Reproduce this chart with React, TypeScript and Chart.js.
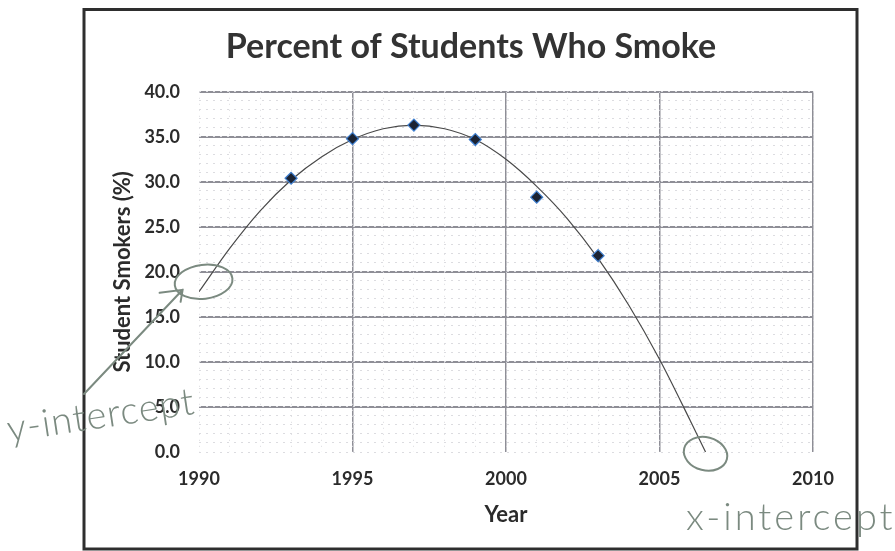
import { useEffect, useRef } from "react";
import { Chart, registerables } from "chart.js";

Chart.register(...registerables);

// ---- data ----
const surveyYears = [1993, 1995, 1997, 1999, 2001, 2003];
const smokerPercent = [30.4, 34.8, 36.3, 34.7, 28.3, 21.8];

// polynomial trendline at each year
const trendYears = [1990, 1991, 1992, 1993, 1994, 1995, 1996, 1997, 1998, 1999, 2000, 2001, 2002, 2003, 2004, 2005, 2006, 2006.5];
const trendPercent = [17.8, 22.6, 26.8, 30.2, 32.8, 34.7, 35.9, 36.3, 35.9, 34.7, 32.5, 29.5, 25.9, 21.5, 16.3, 10.3, 3.5, 0.0];

const xTickValues = [1990, 1995, 2000, 2005, 2010];
const yTickValues = [0, 5, 10, 15, 20, 25, 30, 35, 40];

const chartTitle = "Percent of Students Who Smoke";
const xTitle = "Year";
const yTitle = "Student Smokers (%)";
const yNote = "y-intercept";
const xNote = "x-intercept";
const yInterceptAt = { x: 1990.15, y: 18.9 };
const xInterceptAt = { x: 2006.5, y: -0.2 };

const FONT = "Lato, 'Open Sans', sans-serif";
const INK = "#7b8a80";

const framePlugin = {
  id: "frameAndNotes",
  beforeDraw(chart: any) {
    const ctx = chart.ctx;
    ctx.save();
    ctx.fillStyle = "#ffffff";
    ctx.fillRect(0, 0, chart.width, chart.height);
    ctx.strokeStyle = "#2e2e2e";
    ctx.lineWidth = 3;
    ctx.strokeRect(84, 9.5, 773, 539.5);
    ctx.restore();
  },
  afterDraw(chart: any) {
    const ctx = chart.ctx;
    const xs = chart.scales.x;
    const ys = chart.scales.y;
    ctx.save();
    ctx.strokeStyle = INK;
    ctx.fillStyle = INK;
    ctx.lineWidth = 2;
    ctx.lineCap = "round";

    // circle around the y-intercept
    const yx = xs.getPixelForValue(yInterceptAt.x);
    const yy = ys.getPixelForValue(yInterceptAt.y);
    ctx.beginPath();
    ctx.ellipse(yx, yy, 29, 17, -0.12, 0, Math.PI * 2);
    ctx.stroke();

    // pointer line with small arrow head
    ctx.beginPath();
    ctx.moveTo(84, 394);
    ctx.lineTo(yx - 21, yy + 8);
    ctx.moveTo(yx - 44, yy + 11);
    ctx.lineTo(yx - 21, yy + 8);
    ctx.lineTo(yx - 23, yy + 20);
    ctx.stroke();

    // circle around the x-intercept
    const xx = xs.getPixelForValue(xInterceptAt.x);
    const xy = ys.getPixelForValue(xInterceptAt.y);
    ctx.beginPath();
    ctx.ellipse(xx, xy, 22, 16.5, 0.25, 0, Math.PI * 2);
    ctx.stroke();

    // handwritten notes
    ctx.textBaseline = "alphabetic";
    ctx.font = `300 38px ${FONT}`;
    (ctx as any).letterSpacing = "1px";
    ctx.save();
    ctx.translate(9, 442);
    ctx.rotate(-0.15);
    ctx.fillText(yNote, 0, 0);
    ctx.restore();

    ctx.font = `300 38px ${FONT}`;
    (ctx as any).letterSpacing = "3px";
    ctx.fillText(xNote, 686, 530);
    (ctx as any).letterSpacing = "0px";
    ctx.restore();
  },
};

export default function App() {
  const canvasRef = useRef<HTMLCanvasElement | null>(null);

  useEffect(() => {
    document.body.style.margin = "0";
    const canvas = canvasRef.current;
    if (!canvas) return;

    const chart = new Chart(canvas, {
      type: "scatter",
      data: {
        datasets: [
          {
            label: "Student Smokers",
            data: surveyYears.map((x, i) => ({ x, y: smokerPercent[i] })),
            pointStyle: "rectRot",
            pointRadius: 6,
            backgroundColor: "#1b2333",
            borderColor: "#3f7fcf",
            borderWidth: 1.2,
            showLine: false,
            order: 0,
          } as any,
          {
            type: "line",
            label: "Trend",
            data: trendYears.map((x, i) => ({ x, y: trendPercent[i] })),
            borderColor: "#4a4a4a",
            borderWidth: 1.2,
            pointRadius: 0,
            cubicInterpolationMode: "monotone",
            fill: false,
            order: 1,
          } as any,
        ],
      },
      options: {
        responsive: false,
        animation: false,
        events: [],
        layout: { padding: { left: 47, right: 0, top: 0, bottom: 10 } },
        plugins: {
          legend: { display: false },
          tooltip: { enabled: false },
          title: {
            display: true,
            text: chartTitle,
            color: "#333333",
            font: { family: FONT, size: 34, weight: "bold" },
            padding: { top: 27, bottom: 24 },
          },
        },
        scales: {
          x: {
            type: "linear",
            position: "bottom",
            min: 1990,
            max: 2010,
            afterBuildTicks: (s: any) => {
              s.ticks = xTickValues.map((v) => ({ value: v }));
            },
            afterFit: (s: any) => {
              s.height = 89;
            },
            ticks: {
              callback: (v: any) => String(v),
              color: "#2b2b2b",
              font: { family: FONT, size: 18, weight: "bold" },
              padding: 16,
              maxRotation: 0,
            },
            grid: {
              color: (c: any) => (c.tick && c.tick.value === 1990 ? "rgba(0,0,0,0)" : "#8e8e96"),
              lineWidth: 1.5,
              drawTicks: false,
            },
            border: { display: false },
            title: {
              display: true,
              text: xTitle,
              color: "#2b2b2b",
              font: { family: FONT, size: 22, weight: "bold" },
              padding: { top: 0, bottom: 13 },
            },
          },
          y: {
            type: "linear",
            position: "left",
            min: 0,
            max: 40,
            afterBuildTicks: (s: any) => {
              s.ticks = yTickValues.map((v) => ({ value: v }));
            },
            afterFit: (s: any) => {
              s.width = 152;
            },
            ticks: {
              callback: (v: any) => Number(v).toFixed(1),
              color: "#2b2b2b",
              font: { family: FONT, size: 18, weight: "bold" },
              padding: 19,
            },
            grid: {
              color: (c: any) => (c.tick && c.tick.value === 0 ? "rgba(0,0,0,0)" : "#8e8e96"),
              lineWidth: 2,
              drawTicks: false,
            },
            border: { display: false },
            title: {
              display: true,
              text: yTitle,
              color: "#2b2b2b",
              font: { family: FONT, size: 22, weight: "bold" },
              padding: { top: 63, bottom: 0 },
            },
          },
          xMinor: {
            type: "linear",
            position: "bottom",
            min: 1990,
            max: 2010,
            ticks: { display: false, stepSize: 1 },
            afterFit: (s: any) => {
              s.height = 0;
            },
            grid: { color: "#dcdce0", lineWidth: 1, drawTicks: false },
            border: { display: false, dash: [1, 5] },
          },
          yMinor: {
            type: "linear",
            position: "left",
            min: 0,
            max: 40,
            ticks: { display: false, stepSize: 1 },
            afterFit: (s: any) => {
              s.width = 0;
            },
            grid: { color: "#dcdce0", lineWidth: 1, drawTicks: false },
            border: { display: false, dash: [2, 5] },
          },
          rightPad: {
            type: "linear",
            position: "right",
            min: 0,
            max: 40,
            ticks: { display: false },
            afterFit: (s: any) => {
              s.width = 82;
            },
            grid: { display: false, drawTicks: false },
            border: { display: false },
          },
        } as any,
      },
      plugins: [framePlugin],
    });

    return () => chart.destroy();
  }, []);

  return (
    <div style={{ position: "absolute", left: 0, top: 0, width: 895, height: 551 }}>
      <canvas ref={canvasRef} width={895} height={551} style={{ display: "block" }} />
    </div>
  );
}
